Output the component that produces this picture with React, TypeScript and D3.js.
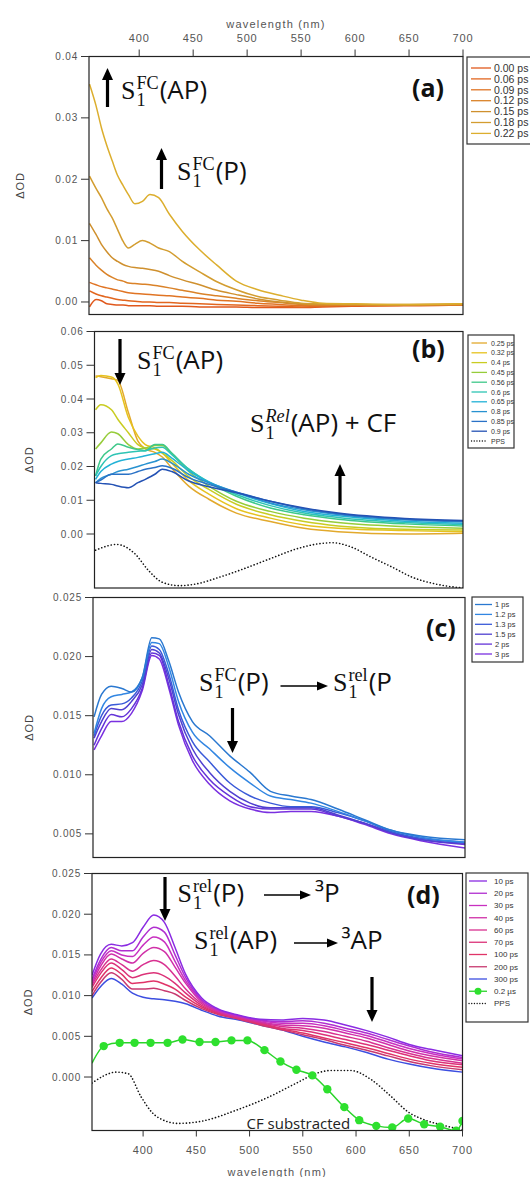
import React from 'react';
import * as d3 from 'd3';

const SANS = '"Liberation Sans", Arial, sans-serif';
const SERIF = '"Liberation Serif", "Times New Roman", serif';
const ANN = '"Open Sans", "Noto Sans", sans-serif';

const xTicks = [400, 450, 500, 550, 600, 650, 700];

// ---------- panel (a)
const wlA = [354, 360, 365, 370, 375, 380, 385, 390, 396, 403, 410, 418, 428, 440, 456, 472, 490, 510, 530, 550, 570, 600, 630, 660, 700];
const a000 = [-0.0008, 0.0004, 0.0002, -0.0003, -0.0004, -0.0005, -0.0005, -0.0006, -0.0006, -0.0006, -0.0006, -0.0007, -0.0007, -0.0007, -0.0008, -0.0008, -0.0008, -0.0009, -0.0009, -0.0009, -0.0008, -0.0007, -0.0006, -0.0006, -0.0005];
const a006 = [0.0018, 0.0013, 0.001, 0.0008, 0.0006, 0.0004, 0.0003, 0.0002, 0.0001, 0, 0, -0.0001, -0.0001, -0.0002, -0.0003, -0.0004, -0.0005, -0.0006, -0.0007, -0.0008, -0.0007, -0.0006, -0.0006, -0.0005, -0.0005];
const a009 = [0.0032, 0.0028, 0.0025, 0.0023, 0.0021, 0.0019, 0.0017, 0.0015, 0.0014, 0.0013, 0.0012, 0.0011, 0.001, 0.0008, 0.0006, 0.0003, 0.0001, -0.0002, -0.0004, -0.0006, -0.0006, -0.0005, -0.0005, -0.0005, -0.0004];
const a012 = [0.0072, 0.006, 0.0052, 0.0045, 0.004, 0.0036, 0.0034, 0.0031, 0.003, 0.0029, 0.0028, 0.0026, 0.0023, 0.0019, 0.0014, 0.001, 0.0006, 0.0002, -0.0001, -0.0004, -0.0005, -0.0005, -0.0005, -0.0005, -0.0004];
const a015 = [0.0128, 0.011, 0.0094, 0.0082, 0.0072, 0.0066, 0.0061, 0.0058, 0.0056, 0.0055, 0.0053, 0.005, 0.0043, 0.0036, 0.0028, 0.0019, 0.0012, 0.0005, 0, -0.0003, -0.0004, -0.0004, -0.0005, -0.0004, -0.0004];
const a018 = [0.0205, 0.0185, 0.017, 0.0152, 0.0137, 0.0118, 0.0099, 0.0088, 0.0094, 0.01, 0.0096, 0.0088, 0.0082, 0.0066, 0.0049, 0.0033, 0.002, 0.0009, 0.0003, -0.0002, -0.0003, -0.0004, -0.0004, -0.0004, -0.0003];
const a022 = [0.0355, 0.032, 0.0284, 0.0255, 0.023, 0.0206, 0.019, 0.0175, 0.016, 0.0164, 0.0175, 0.017, 0.0143, 0.0115, 0.0085, 0.006, 0.0034, 0.002, 0.0011, 0.0003, -0.0002, -0.0003, -0.0004, -0.0004, -0.0003];
const labelsA = ['0.00 ps', '0.06 ps', '0.09 ps', '0.12 ps', '0.15 ps', '0.18 ps', '0.22 ps'];
const colorsA = ['#e0581c', '#e2661f', '#e07424', '#da8228', '#cf902e', '#d39d30', '#dcae2e'];
const yTicksA = [0, 0.01, 0.02, 0.03, 0.04];

// ---------- panel (b)
const wlB = [353, 358, 368, 374, 384, 393, 400, 409, 416, 425, 441, 460, 486, 518, 550, 582, 645, 700];
const b025 = [0.0468, 0.0466, 0.046, 0.0455, 0.036, 0.0275, 0.0252, 0.0242, 0.0228, 0.0195, 0.0142, 0.0103, 0.0062, 0.0037, 0.0017, 0.0007, 0, 0.0002];
const b032 = [0.0463, 0.047, 0.0465, 0.0445, 0.0345, 0.029, 0.0265, 0.0255, 0.024, 0.021, 0.0158, 0.0118, 0.0075, 0.0047, 0.0027, 0.0017, 0.001, 0.0007];
const b040 = [0.0368, 0.0383, 0.0368, 0.034, 0.03, 0.0265, 0.0255, 0.0252, 0.024, 0.0218, 0.017, 0.0132, 0.0088, 0.0057, 0.0037, 0.0024, 0.0014, 0.0012];
const b045 = [0.0252, 0.027, 0.0302, 0.0297, 0.0265, 0.0252, 0.0255, 0.0262, 0.0262, 0.0237, 0.0185, 0.0142, 0.0097, 0.0067, 0.0047, 0.0034, 0.0022, 0.0017];
const b056 = [0.0172, 0.0222, 0.0252, 0.0267, 0.0257, 0.025, 0.0247, 0.0265, 0.0265, 0.024, 0.0192, 0.0152, 0.0112, 0.0077, 0.0057, 0.0044, 0.003, 0.0024];
const b060 = [0.0172, 0.02, 0.0232, 0.0238, 0.0242, 0.0245, 0.0247, 0.0255, 0.0257, 0.0235, 0.0192, 0.0154, 0.0117, 0.0084, 0.0062, 0.0049, 0.0034, 0.0028];
const b065 = [0.0162, 0.0185, 0.0207, 0.0215, 0.0222, 0.0227, 0.0232, 0.0238, 0.0242, 0.0225, 0.0187, 0.0154, 0.0122, 0.009, 0.0067, 0.0054, 0.0038, 0.0032];
const b080 = [0.0152, 0.0165, 0.0177, 0.0185, 0.0192, 0.02, 0.0207, 0.0215, 0.0222, 0.021, 0.0177, 0.0152, 0.0124, 0.0092, 0.0072, 0.0058, 0.0042, 0.0036];
const b085 = [0.0152, 0.016, 0.0177, 0.0177, 0.0177, 0.0185, 0.0192, 0.0197, 0.0202, 0.0195, 0.0167, 0.0147, 0.0124, 0.0097, 0.0075, 0.006, 0.0044, 0.0038];
const b090 = [0.0152, 0.015, 0.0147, 0.0142, 0.0137, 0.0152, 0.0162, 0.0177, 0.0192, 0.0185, 0.0157, 0.014, 0.0122, 0.0097, 0.0077, 0.0062, 0.0046, 0.004];
const labelsB = ['0.25 ps', '0.32 ps', '0.4 ps', '0.45 ps', '0.56 ps', '0.6 ps', '0.65 ps', '0.8 ps', '0.85 ps', '0.9 ps'];
const colorsB = ['#e2a92c', '#e6c21e', '#c9cc22', '#96cc3a', '#3ec88a', '#2ec4b4', '#22b2d6', '#2892d0', '#2a72c6', '#2452b4'];
const wlPpsB = [353, 373, 390, 403, 416, 432, 448, 470, 493, 518, 544, 566, 577, 594, 613, 633, 652, 674, 700];
const ppsB = [-0.0048, -0.0031, -0.0058, -0.0108, -0.0143, -0.0153, -0.0148, -0.0128, -0.0103, -0.0073, -0.0043, -0.0028, -0.0026, -0.0038, -0.0068, -0.0098, -0.0128, -0.0148, -0.016];
const yTicksB = [0, 0.01, 0.02, 0.03, 0.04, 0.05, 0.06];

// ---------- panel (c)
const wlC = [353, 360, 369, 379, 388, 398, 407, 414, 423, 432, 445, 461, 480, 499, 518, 537, 556, 581, 606, 631, 660, 700];
const c1 = [0.0149, 0.0168, 0.0175, 0.0173, 0.017, 0.0182, 0.0216, 0.0215, 0.0196, 0.017, 0.0145, 0.0133, 0.0116, 0.0102, 0.0086, 0.0082, 0.0079, 0.0071, 0.0062, 0.0053, 0.0048, 0.0045];
const c12 = [0.0135, 0.0156, 0.0166, 0.0168, 0.017, 0.0182, 0.0212, 0.0211, 0.0191, 0.0162, 0.0136, 0.0122, 0.0106, 0.0093, 0.0082, 0.0079, 0.0076, 0.0069, 0.0061, 0.0053, 0.0047, 0.0043];
const c13 = [0.0133, 0.015, 0.0159, 0.016, 0.0165, 0.0179, 0.0209, 0.0206, 0.0185, 0.0155, 0.0128, 0.0111, 0.0093, 0.0082, 0.0076, 0.0073, 0.0073, 0.0068, 0.0061, 0.0052, 0.0046, 0.0043];
const c15 = [0.0131, 0.0145, 0.0156, 0.0155, 0.0162, 0.0176, 0.0206, 0.0203, 0.0181, 0.0151, 0.0122, 0.0102, 0.0086, 0.0076, 0.0072, 0.0072, 0.0072, 0.0066, 0.0059, 0.0051, 0.0045, 0.0042];
const c2 = [0.0125, 0.0139, 0.0151, 0.0149, 0.0156, 0.0173, 0.0203, 0.0201, 0.0176, 0.0145, 0.0116, 0.0096, 0.0082, 0.0073, 0.0071, 0.0071, 0.0071, 0.0065, 0.0059, 0.0051, 0.0045, 0.0041];
const c3 = [0.0121, 0.0133, 0.0145, 0.0145, 0.0152, 0.0171, 0.0201, 0.0198, 0.0173, 0.0142, 0.0112, 0.0092, 0.0078, 0.0071, 0.0068, 0.0069, 0.0069, 0.0065, 0.0058, 0.005, 0.0044, 0.0038];
const labelsC = ['1 ps', '1.2 ps', '1.3 ps', '1.5 ps', '2 ps', '3 ps'];
const colorsC = ['#2a78d0', '#3286e2', '#3a5ad8', '#5040d0', '#6434d8', '#7a30e0'];
const yTicksC = [0.005, 0.01, 0.015, 0.02, 0.025];

// ---------- panel (d)
const wlD = [352, 360, 370, 380, 390, 400, 410, 420, 430, 440, 455, 470, 490, 510, 530, 550, 570, 590, 610, 630, 650, 670, 700];
const d10 = [0.0125, 0.0151, 0.0163, 0.0161, 0.0165, 0.0184, 0.0199, 0.019, 0.0159, 0.0126, 0.0097, 0.0084, 0.0076, 0.0071, 0.007, 0.0072, 0.007, 0.0064, 0.0057, 0.0049, 0.004, 0.0034, 0.0026];
const d20 = [0.012, 0.0144, 0.0159, 0.0155, 0.0155, 0.0172, 0.0184, 0.0178, 0.015, 0.0122, 0.0095, 0.0083, 0.0075, 0.007, 0.0068, 0.0069, 0.0066, 0.006, 0.0054, 0.0046, 0.0038, 0.0031, 0.0024];
const d30 = [0.0118, 0.014, 0.0155, 0.015, 0.0148, 0.0162, 0.0172, 0.0166, 0.0142, 0.0118, 0.0094, 0.0082, 0.0075, 0.0069, 0.0066, 0.0066, 0.0063, 0.0057, 0.0051, 0.0043, 0.0035, 0.0029, 0.0022];
const d40 = [0.0115, 0.0136, 0.0151, 0.0145, 0.014, 0.0152, 0.0159, 0.0154, 0.0135, 0.0115, 0.0092, 0.0081, 0.0074, 0.0068, 0.0064, 0.0063, 0.006, 0.0054, 0.0048, 0.004, 0.0032, 0.0026, 0.002];
const d60 = [0.0113, 0.0131, 0.0145, 0.0138, 0.013, 0.0138, 0.0143, 0.0138, 0.0124, 0.0108, 0.009, 0.008, 0.0073, 0.0067, 0.0062, 0.006, 0.0056, 0.005, 0.0044, 0.0036, 0.0029, 0.0023, 0.0017];
const d70 = [0.011, 0.0127, 0.014, 0.0132, 0.0122, 0.0126, 0.0128, 0.0124, 0.0115, 0.0103, 0.0088, 0.0079, 0.0072, 0.0066, 0.006, 0.0057, 0.0052, 0.0046, 0.004, 0.0033, 0.0026, 0.002, 0.0015];
const d100 = [0.0105, 0.0121, 0.0134, 0.0126, 0.0115, 0.0116, 0.0118, 0.0114, 0.0108, 0.0098, 0.0086, 0.0078, 0.0072, 0.0065, 0.0059, 0.0054, 0.0048, 0.0042, 0.0036, 0.0029, 0.0022, 0.0017, 0.0012];
const d200 = [0.01, 0.0116, 0.0128, 0.012, 0.0108, 0.0108, 0.0109, 0.0106, 0.0102, 0.0094, 0.0084, 0.0077, 0.0071, 0.0064, 0.0058, 0.0052, 0.0046, 0.0039, 0.0033, 0.0026, 0.0019, 0.0014, 0.0009];
const d300 = [0.0097, 0.0111, 0.0121, 0.0114, 0.0103, 0.0098, 0.0096, 0.0095, 0.0093, 0.009, 0.0082, 0.0075, 0.007, 0.0064, 0.0058, 0.005, 0.0043, 0.0037, 0.003, 0.0022, 0.0016, 0.0011, 0.0006];
const labelsD = ['10 ps', '20 ps', '30 ps', '40 ps', '60 ps', '70 ps', '100 ps', '200 ps', '300 ps'];
const colorsD = ['#8a2be2', '#b02ed0', '#c830c0', '#d030a8', '#d83090', '#dc3278', '#e03468', '#c83a70', '#3c4ee0'];
const wlGreen = [352, 363, 378, 392, 407, 423, 437, 453, 468, 483, 498, 514, 529, 544, 559, 573, 589, 603, 619, 634, 649, 664, 679, 694, 700];
const green02 = [0.0017, 0.0038, 0.0042, 0.0042, 0.0042, 0.0042, 0.0046, 0.0043, 0.0043, 0.0045, 0.0045, 0.0033, 0.0019, 0.0009, 0.0002, -0.0015, -0.0037, -0.0053, -0.006, -0.0062, -0.0051, -0.0058, -0.0061, -0.0066, -0.0054];
const wlPpsD = [352, 375, 386, 398, 408, 421, 433, 456, 487, 519, 544, 564, 576, 595, 614, 633, 649, 665, 684, 700];
const ppsD = [-0.00075, 0.0006, 0.0004, -0.0024, -0.0043, -0.0054, -0.0057, -0.0054, -0.0041, -0.0024, -0.00075, 0.0005, 0.0008, 0.0008, -0.0003, -0.0024, -0.0043, -0.0053, -0.006, -0.0065];
const yTicksD = [0, 0.005, 0.01, 0.015, 0.02, 0.025];

// ---------- helpers
let _ctx: CanvasRenderingContext2D | null = null;
function textW(s: string, font: string): number {
  if (!_ctx) _ctx = document.createElement('canvas').getContext('2d');
  if (!_ctx) return s.length * 10;
  _ctx.font = font;
  return _ctx.measureText(s).width;
}

type Series = { wl: number[]; v: number[]; color: string; width?: number; dash?: string; markers?: boolean };

function Panel(props: {
  id: string; left: number; right: number; top: number; bottom: number; x0: number;
  yDomain: [number, number]; yTicks: number[]; yFmt: string; series: Series[];
  topAxis?: boolean; bottomAxis?: boolean; yLabelX: number;
}) {
  const { id, left, right, top, bottom, x0, yDomain, yTicks, yFmt, series, topAxis, bottomAxis, yLabelX } = props;
  const x = d3.scaleLinear().domain([x0, 700]).range([left, right]);
  const y = d3.scaleLinear().domain(yDomain).range([bottom, top]);
  const fmt = d3.format(yFmt);
  const line = d3.line<[number, number]>().x(d => x(d[0])).y(d => y(d[1])).curve(d3.curveMonotoneX);
  return (
    <g>
      <defs>
        <clipPath id={id}>
          <rect x={left} y={top} width={right - left} height={bottom - top} />
        </clipPath>
      </defs>
      <g clipPath={`url(#${id})`}>
        {series.map((s, i) => {
          const pts = s.wl.map((w, j) => [w, s.v[j]] as [number, number]);
          return (
            <g key={i}>
              <path d={line(pts) || ''} fill="none" stroke={s.color} strokeWidth={s.width ?? 1.5}
                strokeDasharray={s.dash} strokeLinecap={s.dash ? 'round' : 'butt'} />
              {s.markers && pts.slice(1).map((p, j) => (
                <circle key={j} cx={x(p[0])} cy={y(p[1])} r={4.2} fill="#2ee02e" />
              ))}
            </g>
          );
        })}
      </g>
      <rect x={left} y={top} width={right - left} height={bottom - top} fill="none" stroke="#222" strokeWidth={1.2} />
      {yTicks.map(t => (
        <g key={t}>
          <line x1={left - 8} x2={left} y1={y(t)} y2={y(t)} stroke="#333" strokeWidth={1} />
          <text x={left - 11} y={y(t) + 3.5} textAnchor="end" fontFamily={SANS} fontSize={10} letterSpacing={0.8} fill="#555">{fmt(t)}</text>
        </g>
      ))}
      <text transform={`translate(${yLabelX},${(top + bottom) / 2}) rotate(-90)`} textAnchor="middle"
        fontFamily={SANS} fontSize={11} letterSpacing={0.8} fill="#444">ΔOD</text>
      {topAxis && xTicks.map(t => (
        <g key={t}>
          <line x1={x(t)} x2={x(t)} y1={top} y2={top - 7} stroke="#333" />
          <text x={x(t)} y={top - 15} textAnchor="middle" fontFamily={SANS} fontSize={11} letterSpacing={0.8} fill="#555">{t}</text>
        </g>
      ))}
      {topAxis && <text x={(left + right) / 2} y={top - 29} textAnchor="middle" fontFamily={SANS} fontSize={11} letterSpacing={1.2} fill="#555">wavelength (nm)</text>}
      {bottomAxis && xTicks.map(t => (
        <g key={t}>
          <line x1={x(t)} x2={x(t)} y1={bottom} y2={bottom + 6} stroke="#333" />
          <text x={x(t)} y={bottom + 23} textAnchor="middle" fontFamily={SANS} fontSize={11} letterSpacing={0.8} fill="#555">{t}</text>
        </g>
      ))}
      {bottomAxis && <text x={(left + right) / 2} y={bottom + 45} textAnchor="middle" fontFamily={SANS} fontSize={11} letterSpacing={1.2} fill="#555">wavelength (nm)</text>}
    </g>
  );
}

type LegItem = { label: string; color: string; dash?: string; marker?: boolean };
function Legend(p: { x: number; y: number; w: number; h: number; items: LegItem[]; fs: number; y0: number; dy: number; lx0: number; lx1: number; tx: number }) {
  return (
    <g>
      <rect x={p.x} y={p.y} width={p.w} height={p.h} fill="#fff" stroke="#333" strokeWidth={1.2} />
      {p.items.map((it, i) => {
        const yy = p.y0 + i * p.dy;
        return (
          <g key={i}>
            <line x1={p.lx0} x2={p.lx1} y1={yy} y2={yy} stroke={it.color} strokeWidth={1.3}
              strokeDasharray={it.dash} strokeLinecap={it.dash ? 'round' : 'butt'} />
            {it.marker && <circle cx={(p.lx0 + p.lx1) / 2} cy={yy} r={3.5} fill="#2ee02e" />}
            <text x={p.tx} y={yy + p.fs * 0.36} fontFamily={SANS} fontSize={p.fs} fill="#333">{it.label}</text>
          </g>
        );
      })}
    </g>
  );
}

// S with subscript 1 and a superscript, then a body, composed as one text element
function Species(p: { x: number; y: number; sup: string; body: string; italic?: boolean; fs?: number }) {
  const fs = p.fs ?? 26;
  const small = fs * 0.7;
  const sW = textW('S', `${fs}px ${SERIF}`);
  const supW = textW(p.sup, `${p.italic ? 'italic ' : ''}${small}px ${SERIF}`);
  const subW = textW('1', `${small}px ${SERIF}`);
  const sx = p.x + sW + 1;
  const bx = sx + Math.max(supW, subW) + 1;
  return (
    <text fill="#111" fontFamily={SERIF} fontSize={fs}>
      <tspan x={p.x} y={p.y}>S</tspan>
      <tspan x={sx} y={p.y - fs * 0.4} fontSize={small} fontStyle={p.italic ? 'italic' : 'normal'}>{p.sup}</tspan>
      <tspan x={sx} y={p.y + fs * 0.28} fontSize={small}>1</tspan>
      <tspan x={bx} y={p.y} fontFamily={ANN}>{p.body}</tspan>
    </text>
  );
}

function VArrow(p: { x: number; tail: number; tip: number }) {
  const dir = p.tip < p.tail ? -1 : 1;
  const head = 12;
  const neck = p.tip - dir * head;
  return (
    <g fill="#000">
      <rect x={p.x - 1.6} y={Math.min(p.tail, neck)} width={3.2} height={Math.abs(neck - p.tail)} />
      <path d={`M${p.x - 5.5},${neck} L${p.x + 5.5},${neck} L${p.x},${p.tip} Z`} />
    </g>
  );
}

function HArrow(p: { x1: number; x2: number; y: number }) {
  const head = 11;
  return (
    <g>
      <line x1={p.x1} x2={p.x2 - head + 1} y1={p.y} y2={p.y} stroke="#000" strokeWidth={1.5} />
      <path d={`M${p.x2 - head},${p.y - 4.5} L${p.x2},${p.y} L${p.x2 - head},${p.y + 4.5} Z`} fill="#000" />
    </g>
  );
}

function PanelLabel(p: { x: number; y: number; t: string }) {
  return <text x={p.x} y={p.y} fontFamily={ANN} fontWeight={700} fontSize={25} fill="#111">{p.t}</text>;
}

export default function App() {
  const seriesA: Series[] = [a000, a006, a009, a012, a015, a018, a022].map((v, i) => ({ wl: wlA, v, color: colorsA[i] }));
  const seriesB: Series[] = [
    { wl: wlPpsB, v: ppsB, color: '#111', dash: '0.1 3.2', width: 1.6 },
    ...[b025, b032, b040, b045, b056, b060, b065, b080, b085, b090].map((v, i) => ({ wl: wlB, v, color: colorsB[i] })),
  ];
  const seriesC: Series[] = [c3, c2, c15, c13, c12, c1].map((v, i) => ({ wl: wlC, v, color: colorsC[5 - i] }));
  const seriesD: Series[] = [
    { wl: wlPpsD, v: ppsD, color: '#111', dash: '0.1 3.2', width: 1.6 },
    ...[d300, d200, d100, d70, d60, d40, d30, d20, d10].map((v, i) => ({ wl: wlD, v, color: colorsD[8 - i] })),
    { wl: wlGreen, v: green02, color: '#2ad42a', width: 1.5, markers: true },
  ];

  return (
    <svg width={530} height={1177} style={{ position: 'absolute', left: 0, top: 0, background: '#fff' }}>
      <rect x={0} y={0} width={530} height={1177} fill="#fff" />
      <Panel id="clipA" left={89} right={463} top={56.5} bottom={314.5} x0={353.5} yDomain={[-0.00204, 0.04]}
        yTicks={yTicksA} yFmt=".2f" series={seriesA} topAxis yLabelX={24} />
      <Panel id="clipB" left={94.5} right={463} top={331.5} bottom={588} x0={352} yDomain={[-0.016, 0.06]}
        yTicks={yTicksB} yFmt=".2f" series={seriesB} yLabelX={33} />
      <Panel id="clipC" left={93} right={465} top={597.5} bottom={857.5} x0={352} yDomain={[0.003, 0.025]}
        yTicks={yTicksC} yFmt=".3f" series={seriesC} yLabelX={33} />
      <Panel id="clipD" left={92} right={462.5} top={873.5} bottom={1130.5} x0={352} yDomain={[-0.00657, 0.025]}
        yTicks={yTicksD} yFmt=".3f" series={seriesD} bottomAxis yLabelX={32} />

      {/* legends */}
      <Legend x={467} y={57} w={80} h={87} fs={10.5} y0={68} dy={10.9} lx0={471} lx1={491} tx={494}
        items={labelsA.map((l, i) => ({ label: l, color: colorsA[i] }))} />
      <Legend x={468} y={335} w={46} h={113} fs={7} y0={343} dy={9.8} lx0={471.5} lx1={487} tx={491}
        items={[...labelsB.map((l, i) => ({ label: l, color: colorsB[i] })), { label: 'PPS', color: '#111', dash: '0.1 2.6' }]} />
      <Legend x={472} y={597} w={51} h={65} fs={7.5} y0={604.5} dy={9.9} lx0={475} lx1={492} tx={495}
        items={labelsC.map((l, i) => ({ label: l, color: colorsC[i] }))} />
      <Legend x={466} y={873} w={62} h={149} fs={8} y0={881} dy={12.25} lx0={469} lx1={487} tx={494}
        items={[...labelsD.map((l, i) => ({ label: l, color: colorsD[i] })), { label: '0.2 µs', color: '#2ad42a', marker: true }, { label: 'PPS', color: '#111', dash: '0.1 2.6' }]} />

      {/* panel labels */}
      <PanelLabel x={412} y={97} t="(a)" />
      <PanelLabel x={412} y={358} t="(b)" />
      <PanelLabel x={426} y={637} t="(c)" />
      <PanelLabel x={407} y={904} t="(d)" />

      {/* annotations (a) */}
      <VArrow x={107.5} tail={107} tip={68} />
      <Species x={121} y={99} sup="FC" body="(AP)" />
      <VArrow x={161.5} tail={189} tip={148} />
      <Species x={177} y={180} sup="FC" body="(P)" />

      {/* annotations (b) */}
      <VArrow x={120} tail={339} tip={385} />
      <Species x={137} y={369} sup="FC" body="(AP)" />
      <Species x={250} y={432} sup="Rel" italic body="(AP) + CF" />
      <VArrow x={340} tail={505} tip={464} />

      {/* annotations (c) */}
      <Species x={199} y={691} sup="FC" body="(P)" />
      <HArrow x1={280.5} x2={328} y={686} />
      <Species x={333} y={691} sup="rel" body="(P" />
      <VArrow x={232.5} tail={708} tip={753} />

      {/* annotations (d) */}
      <VArrow x={165} tail={877} tip={921} />
      <Species x={177.5} y={902} sup="rel" body="(P)" />
      <HArrow x1={264} x2={311} y={895} />
      <text x={315} y={902} fontFamily={ANN} fontSize={26} fill="#111">³P</text>
      <Species x={194} y={949} sup="rel" body="(AP)" />
      <HArrow x1={294} x2={338} y={943} />
      <text x={341.5} y={949} fontFamily={ANN} fontSize={26} fill="#111">³AP</text>
      <VArrow x={372} tail={977} tip={1022} />
      <text x={246.5} y={1129} fontFamily={ANN} fontSize={15} fill="#222">CF substracted</text>
    </svg>
  );
}
